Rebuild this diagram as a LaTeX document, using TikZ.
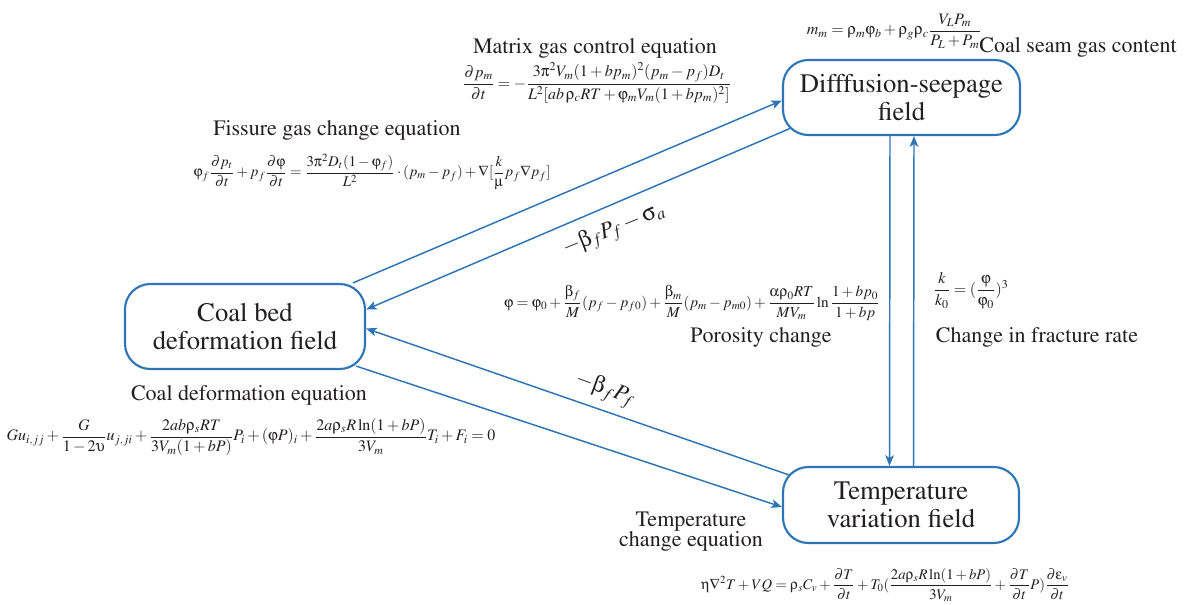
\documentclass[tikz,border=0pt]{standalone}
\usepackage{amsmath}
\usepackage[T1]{fontenc}
\usepackage{mathptmx}
\usepackage[Symbol]{upgreek}
\usetikzlibrary{arrows.meta,calc}
\definecolor{bl}{RGB}{46,117,182}
\definecolor{ink}{RGB}{35,31,32}
\newcommand\Rh{\uprho}
\newcommand\Ph{\upvarphi}
\newcommand\Bt{\upbeta}
\newcommand\Sg{\upsigma}
\newcommand\Et{\upeta}
\newcommand\Ep{\upepsilon}
\newcommand\Al{\upalpha}
\newcommand\Mu{\upmu}
\newcommand\Pii{\uppi}
\newcommand\Up{\upupsilon}
\begin{document}
\begin{tikzpicture}[x=0.75pt,y=-0.75pt,
  field/.style={draw=bl, line width=1.6pt, rounded corners=19pt, align=center,
    text=ink, minimum width=177.75pt, minimum height=56.25pt, inner sep=0pt,
    font=\fontsize{20}{21}\selectfont},
  lab/.style={text=ink, align=center, inner sep=0pt, font=\fontsize{16.5}{15}\selectfont},
  eq/.style={text=ink, inner sep=0pt, font=\fontsize{12}{14}\selectfont},
  slope/.style={text=ink, inner sep=0pt, font=\fontsize{17}{19}\selectfont},
  arr/.style={draw=bl, line width=1.1pt, -{Stealth[length=8pt,width=6.5pt,inset=2pt]}}]
\useasboundingbox (0,0) rectangle (1184,604);

\node[field] (diff) at (901.5,97.5) {Difffusion-seepage\\field};
\node[field, minimum width=180pt, minimum height=63.75pt] (cb) at (245,326.5) {Coal bed\\deformation field};
\node[field, minimum width=177pt, minimum height=57pt] (temp) at (901,505) {Temperature\\variation field};

\draw[arr] (cb.22) -- ($(diff.west)+(0,3)$);
\draw[arr] ($(diff.south west)+(9,-8)$) -- ($(cb.east)+(0,-17)$);
\draw[arr] ($(temp.north west)+(7,9)$) -- ($(cb.east)+(0,2)$);
\draw[arr] ($(cb.south east)+(-10,-4)$) -- ($(temp.west)+(0,2)$);
\draw[arr] ($(diff.south)+(-11.5,0)$) -- ($(temp.north)+(-11.5,0)$);
\draw[arr] ($(temp.north)+(12.5,0)$) -- ($(diff.south)+(12.5,0)$);

\node[eq] (mmeq) at (894,31) {$m_m = \Rh_m\Ph_b + \Rh_g\Rh_c\dfrac{V_L P_m}{P_L + P_m}$};
\node[lab] (cgc) at (1078,47) {Coal seam gas content};

\node[lab] (mgc) at (595,48) {Matrix gas control equation};
\node[eq] (mgceq) at (597,83) {$\dfrac{\partial p_m}{\partial t} = -\dfrac{3\Pii^2 V_m(1+bp_m)^2(p_m - p_f)D_t}{L^2[ab\,\Rh_c RT + \Ph_m V_m(1+bp_m)^2]}$};

\node[lab] (fgc) at (337,130) {Fissure gas change equation};
\node[eq, font=\fontsize{11.1}{13}\selectfont] (fgceq) at (372,172) {$\Ph_f\dfrac{\partial p_t}{\partial t} + p_f\dfrac{\partial\Ph}{\partial t} = \dfrac{3\Pii^2 D_t(1-\Ph_f)}{L^2}\cdot(p_m - p_f) + \nabla[\dfrac{k}{\Mu}p_f\nabla p_f]$};

\node[eq, font=\fontsize{11.4}{13}\selectfont] (poreq) at (692,303) {$\Ph = \Ph_0 + \dfrac{\Bt_f}{M}(p_f - p_{f0}) + \dfrac{\Bt_m}{M}(p_m - p_{m0}) + \dfrac{\Al\Rh_0 RT}{MV_m}\ln\dfrac{1+bp_0}{1+bp}$};
\node[lab] (por) at (761,337) {Porosity change};

\node[eq] (freq) at (971,291) {$\dfrac{k}{k_0} = (\dfrac{\Ph}{\Ph_0})^3$};
\node[lab] (fr) at (1037,337) {Change in fracture rate};

\node[lab] (cde) at (249,395) {Coal deformation equation};
\node[eq] (cdeeq) at (251,437) {$Gu_{i,jj} + \dfrac{G}{1-2\Up}u_{j,ji} + \dfrac{2ab\Rh_s RT}{3V_m(1+bP)}P_i + (\Ph P)_i + \dfrac{2a\Rh_s R\ln(1+bP)}{3V_m}T_i + F_i = 0$};

\node[lab] (tce) at (691,532) {Temperature\\change equation};
\node[eq, font=\fontsize{11}{13}\selectfont] (tceeq) at (885,585) {$\Et\nabla^2 T + VQ = \Rh_s C_v + \dfrac{\partial T}{\partial t} + T_0(\dfrac{2a\Rh_s R\ln(1+bP)}{3V_m} + \dfrac{\partial T}{\partial t}P)\dfrac{\partial\Ep_v}{\partial t}$};

\node[slope, rotate=22] (s1) at (614,230) {$-\Bt_f P_f - \Sg_a$};
\node[slope, rotate=-20] (s2) at (605,390) {$-\Bt_f P_f$};
\end{tikzpicture}
\end{document}
